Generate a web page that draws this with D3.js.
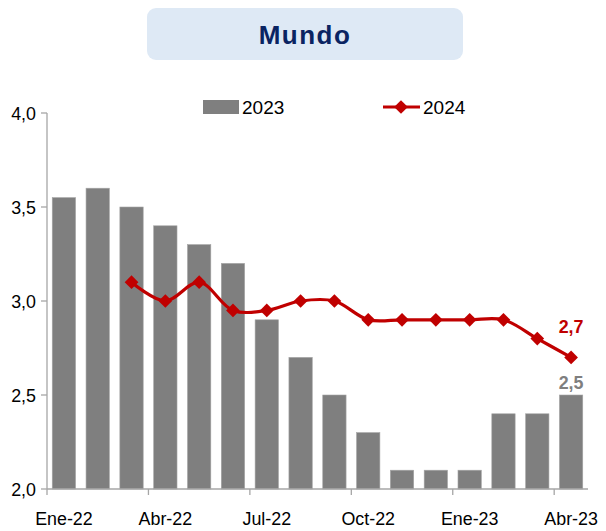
<!DOCTYPE html>
<html><head><meta charset="utf-8">
<script src="https://cdn.jsdelivr.net/npm/d3@7"></script>
<style>body{margin:0;background:#fff}svg{display:block;font-family:"Liberation Sans",Arial,sans-serif}</style>
</head><body><svg id="c" width="606" height="531"></svg>
<script>
const months = ["Ene-22","Feb-22","Mar-22","Abr-22","May-22","Jun-22","Jul-22","Ago-22","Sep-22","Oct-22","Nov-22","Dic-22","Ene-23","Feb-23","Mar-23","Abr-23"];
const tickLabels = ["Ene-22","Abr-22","Jul-22","Oct-22","Ene-23","Abr-23"];
const values2023 = [3.55,3.6,3.5,3.4,3.3,3.2,2.9,2.7,2.5,2.3,2.1,2.1,2.1,2.4,2.4,2.5];
const values2024 = [null,null,3.1,3.0,3.1,2.95,2.95,3.0,3.0,2.9,2.9,2.9,2.9,2.9,2.8,2.7];
const yTicks = [2.0,2.5,3.0,3.5,4.0];
const seriesNames = ["2023","2024"];
const title = "Mundo";

(function(){
const svg = d3.select("#c");
const L = 47, R = 588, T = 113, B = 489;
const x = d3.scaleBand().domain(months).range([L,R]).paddingInner(0.31).paddingOuter(0.155);
const xb = d3.scaleBand().domain(months).range([L,R]);
const y = d3.scaleLinear().domain([2,4]).range([B,T]);
const fmt = v => d3.format(".1f")(v).replace(".",",");
const axisCol = "#a6a6a6";
const FS = 19, SX = 0.94;
function label(sel, tx, ty, txt, anchor, opts){
  const t = sel.append("text").attr("transform",`translate(${tx},${ty}) scale(${(opts&&opts.sx)||SX},1)`)
    .attr("text-anchor",anchor).attr("font-size",(opts&&opts.fs)||FS).attr("fill",(opts&&opts.fill)||"#000").text(txt);
  if(opts&&opts.bold) t.attr("font-weight","bold");
  return t;
}

// title box
svg.append("rect").attr("x",147).attr("y",8).attr("width",316).attr("height",52).attr("rx",9)
  .attr("fill","#dee9f5");
svg.append("text").attr("x",305).attr("y",44).attr("text-anchor","middle")
  .attr("font-size",26).attr("font-weight","bold").attr("letter-spacing",1.5).attr("fill","#0a2462").text(title);

// bars
svg.append("g").selectAll("rect").data(values2023).join("rect")
  .attr("x",(d,i)=>x(months[i])).attr("width",x.bandwidth())
  .attr("y",d=>y(d)).attr("height",d=>B-y(d))
  .attr("fill","#7f7f7f").attr("stroke","#a5a5a5").attr("stroke-width",0.6);

// y axis
const ya = svg.append("g");
ya.append("path").attr("fill","none").attr("stroke",axisCol).attr("stroke-width",1.3).attr("d",`M${L},${T}V${B}`);
yTicks.forEach(v=>{
  ya.append("line").attr("x1",L-6).attr("x2",L).attr("y1",y(v)).attr("y2",y(v)).attr("stroke",axisCol).attr("stroke-width",1.3);
  label(ya, 36, y(v)+7, fmt(v), "end");
});

// x axis
const xa = svg.append("g").attr("transform",`translate(0,${B})`);
xa.append("line").attr("x1",L).attr("x2",R).attr("stroke",axisCol).attr("stroke-width",1.3);
const tickIdx = months.map((m,i)=>i).filter(i=>tickLabels.includes(months[i]));
tickIdx.forEach(i=>{
  xa.append("line").attr("x1",xb(months[i])).attr("x2",xb(months[i])).attr("y1",0).attr("y2",6)
    .attr("stroke",axisCol).attr("stroke-width",1.3);
  label(xa, xb(months[i])+xb.bandwidth()/2, 36, months[i], "middle");
});

// line 2024
const pts = values2024.map((v,i)=>({v,i})).filter(d=>d.v!=null);
const cx = d => xb(months[d.i])+xb.bandwidth()/2;
const red = "#c00000";
svg.append("path").datum(pts)
  .attr("d",d3.line().x(cx).y(d=>y(d.v)).curve(d3.curveCatmullRom.alpha(0.5)))
  .attr("fill","none").attr("stroke",red).attr("stroke-width",3.2);
const diamond = d3.symbol().type(d3.symbolDiamond2).size(120);
svg.append("g").selectAll("path").data(pts).join("path")
  .attr("transform",d=>`translate(${cx(d)},${y(d.v)})`).attr("d",diamond).attr("fill",red);

// data labels
const last = months.length-1;
label(svg, cx({i:last}), y(values2024[last])-24, fmt(values2024[last]), "middle", {bold:true, fill:red, fs:19});
label(svg, cx({i:last}), y(values2023[last])-6, fmt(values2023[last]), "middle", {bold:true, fill:"#7f7f7f", fs:19});

// legend
svg.append("rect").attr("x",203).attr("y",100).attr("width",36).attr("height",14).attr("fill","#7f7f7f");
label(svg, 242, 114, seriesNames[0], "start", {sx:1});
svg.append("line").attr("x1",383).attr("x2",420).attr("y1",107).attr("y2",107).attr("stroke",red).attr("stroke-width",3);
svg.append("path").attr("transform","translate(401,107)").attr("d",diamond).attr("fill",red);
label(svg, 423, 114, seriesNames[1], "start", {sx:1});
})();
</script></body></html>
